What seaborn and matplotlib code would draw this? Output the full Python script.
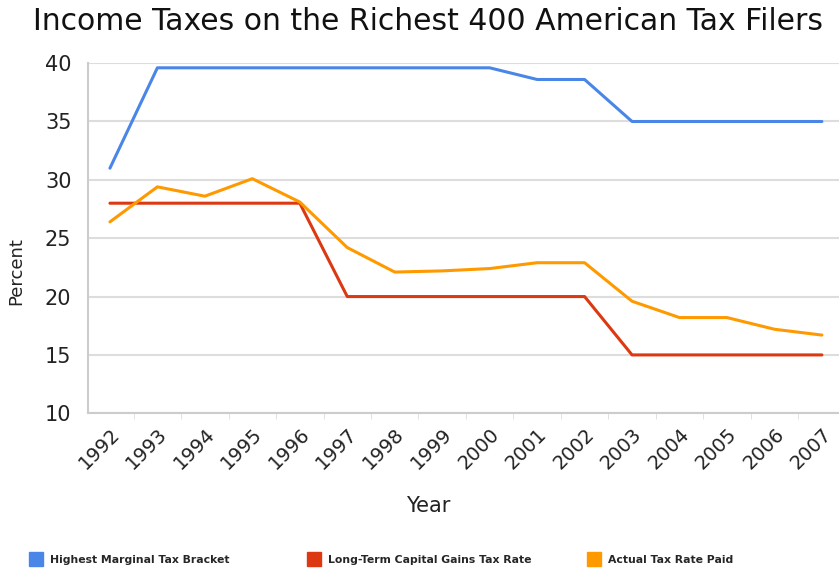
import pandas as pd
import matplotlib.pyplot as plt
import seaborn as sns
from matplotlib.lines import Line2D

# --- DATA ---
years = list(range(1992, 2008))
highest_bracket = [31.0, 39.6, 39.6, 39.6, 39.6, 39.6, 39.6, 39.6, 39.6, 38.6, 38.6, 35.0, 35.0, 35.0, 35.0, 35.0]
capital_gains = [28.0, 28.0, 28.0, 28.0, 28.0, 20.0, 20.0, 20.0, 20.0, 20.0, 20.0, 15.0, 15.0, 15.0, 15.0, 15.0]
actual_paid = [26.4, 29.4, 28.6, 30.1, 28.1, 24.2, 22.1, 22.2, 22.4, 22.9, 22.9, 19.6, 18.2, 18.2, 17.2, 16.7]

series_names = ["Highest Marginal Tax Bracket", "Long-Term Capital Gains Tax Rate", "Actual Tax Rate Paid"]
colors = ["#4a86e8", "#dc3912", "#ff9900"]

df = pd.DataFrame({"Year": years * 3,
                   "Percent": highest_bracket + capital_gains + actual_paid,
                   "Series": [series_names[0]] * 16 + [series_names[1]] * 16 + [series_names[2]] * 16})

sns.set_style("white")
plt.rcParams['font.family'] = ['DejaVu Sans']

fig, ax = plt.subplots(figsize=(8.39, 5.74), dpi=100)
fig.subplots_adjust(left=0.105, right=1.0, top=0.89, bottom=0.28)

sns.lineplot(data=df, x="Year", y="Percent", hue="Series", hue_order=series_names,
             palette=colors, linewidth=2.2, ax=ax, legend=False)

ax.set_xlim(1991.54, 2007.36)
ax.set_ylim(10, 40)
ax.set_yticks([10, 15, 20, 25, 30, 35, 40])
ax.set_xticks(years)
ax.set_xticks([y + 0.5 for y in years[:-1]], minor=True)
ax.set_xticklabels([str(y) for y in years], rotation=45, ha='right', rotation_mode='anchor',
                   fontsize=14, color='#222222')
ax.tick_params(axis='y', labelsize=15, labelcolor='#222222', length=0, pad=12)
ax.tick_params(axis='x', which='major', length=0, pad=8)
ax.tick_params(axis='x', which='minor', length=4, color='#dddddd', bottom=True)
ax.grid(axis='y', color='#dddddd', linewidth=1.5)
for side in ['top', 'right']:
    ax.spines[side].set_visible(False)
ax.spines['left'].set_color('#cccccc')
ax.spines['bottom'].set_color('#cccccc')
ax.spines['left'].set_linewidth(1.5)
ax.spines['bottom'].set_linewidth(1.5)

ax.set_xlabel("Year", fontsize=15, color='#222222')
ax.xaxis.set_label_coords(0.453, -0.235)
ax.set_ylabel("Percent", fontsize=13, color='#222222')
ax.yaxis.set_label_coords(-0.084, 0.405)
fig.text(0.51, 0.948, "Income Taxes on the Richest 400 American Tax Filers", fontsize=21.5,
         color='#111111', ha='center', va='baseline')

# one legend entry per column position, like the original layout
legend_x = [0.025, 0.356, 0.69]
for name, c, lx in zip(series_names, colors, legend_x):
    h = Line2D([], [], marker='s', linestyle='', markersize=10, color=c)
    fig.legend([h], [name], loc='center left', bbox_to_anchor=(lx, 0.024), frameon=False,
               handletextpad=0.3, borderaxespad=0, prop={'weight': 'bold', 'size': 7.8})

plt.savefig("out.png", dpi=100)
